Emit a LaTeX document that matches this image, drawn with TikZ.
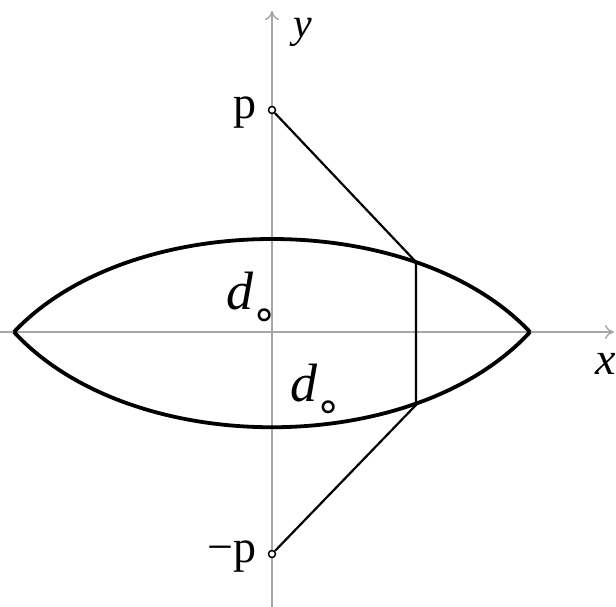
\documentclass[tikz,border=0pt]{standalone}
\usepackage{fontspec}
\setmainfont{Liberation Serif}
\newfontfamily\dejavu{DejaVu Sans}
\usetikzlibrary{arrows.meta}
\begin{document}
\begin{tikzpicture}[x=1pt,y=-1pt,
  axis/.style={draw=black!35, line width=1.4pt},
  lens/.style={draw=black, line width=3.8pt},
  seg/.style={draw=black, line width=2.2pt},
  pdot/.style={circle, draw=black, fill=white, line width=1.5pt, inner sep=0pt, minimum size=7pt},
  lbl/.style={inner sep=0pt, font=\fontsize{46}{46}\selectfont},
  dlbl/.style={inner sep=0pt, font=\fontsize{54}{54}\selectfont}]
\useasboundingbox (0,0) rectangle (616,607);
% axes
\coordinate (xs) at (0,332);
\coordinate (xe) at (614,332);
\coordinate (ys) at (272,607);
\coordinate (ye) at (272,11);
\draw[axis, -{To[length=9pt,width=14pt]}] (xs) -- (xe);
\draw[axis, -{To[length=9pt,width=14pt]}] (ys) -- (ye);
% lens
\coordinate (L) at (14,332);
\coordinate (R) at (530,332);
\draw[lens] (L) .. controls (131,208) and (413,208) .. (R);
\draw[lens] (L) .. controls (131,459) and (413,459) .. (R);
% points and segments
\coordinate (jt) at (416,262);
\coordinate (jb) at (416,405);
\node[pdot] (p) at (272,110) {};
\node[pdot] (mp) at (272,554) {};
\draw[seg] (p) -- (jt) -- (jb) -- (mp);
% labels
\node[lbl, anchor=base east] (plbl) at (257,119) {p};
\node[lbl, anchor=base east] (mplbl) at (257,562) {−p};
\node[lbl, anchor=base, font=\fontsize{42}{42}\selectfont] (ylbl) at (303,38) {\textit{y}};
\node[lbl, anchor=base west] (xlbl) at (595,374) {\textit{x}};
\node[dlbl, anchor=base west] (d1) at (226,309) {\textit{d}\kern-2pt\raisebox{-19pt}{\dejavu\fontsize{42}{42}\selectfont ∘}};
\node[dlbl, anchor=base west] (d2) at (290,401) {\textit{d}\kern-2pt\raisebox{-19pt}{\dejavu\fontsize{42}{42}\selectfont ∘}};
\end{tikzpicture}
\end{document}
